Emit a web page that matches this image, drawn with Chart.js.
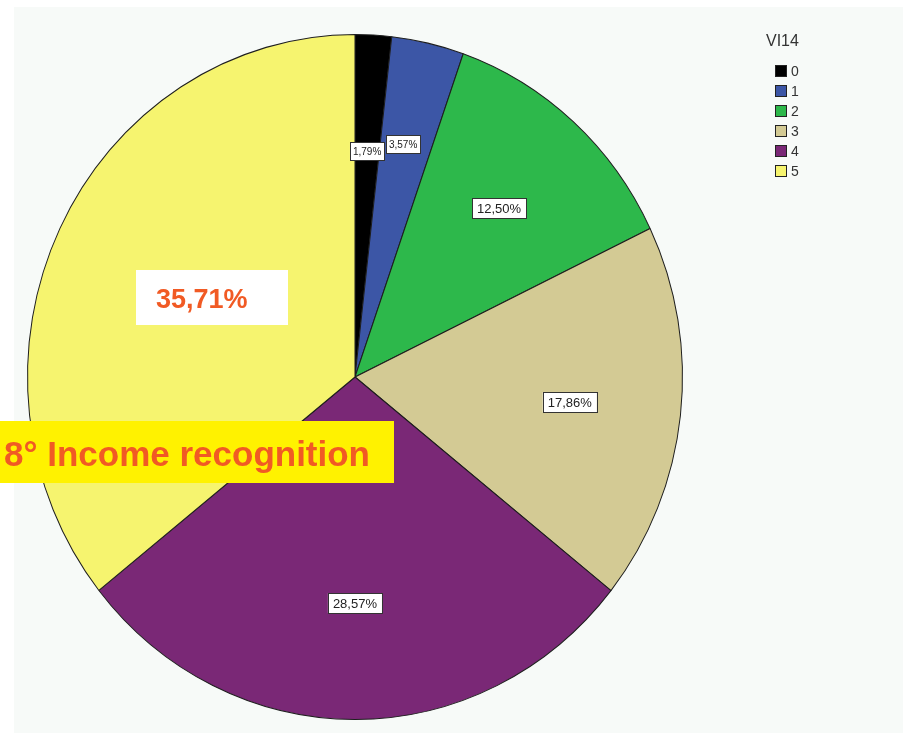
<!DOCTYPE html>
<html>
<head>
<meta charset="utf-8">
<script src="https://cdn.jsdelivr.net/npm/chart.js@4"></script>
<style>
  html, body { margin: 0; padding: 0; background: #ffffff; }
  #wrap { width: 903px; height: 733px; }
</style>
</head>
<body>
<div id="wrap"><canvas id="pie" width="903" height="733"></canvas></div>
<script>
const categories = ["0", "1", "2", "3", "4", "5"];
const percents = [1.79, 3.57, 12.50, 17.86, 28.57, 35.71];
const sliceColors = ["#000000", "#3c56a6", "#2db84b", "#d3ca94", "#7a2876", "#f6f46f"];
const legendTitle = "VI14";
const bigLabel = "35,71%";
const bannerText = "8° Income recognition";

// the original pie is a little taller than wide
const stretchY = 343 / 328;

const fmt = (v) => v.toFixed(2).replace(".", ",") + "%";

const panelBg = {
    id: "panelBg",
    beforeDraw(chart) {
        const ctx = chart.ctx;
        ctx.save();
        ctx.fillStyle = "#f7faf8";
        ctx.fillRect(14, 7, chart.width - 14, chart.height - 7);
        ctx.restore();
    },
};

const stretch = {
    id: "stretch",
    beforeDatasetsDraw(chart) {
        const a = chart.getDatasetMeta(0).data[0];
        const ctx = chart.ctx;
        ctx.save();
        ctx.translate(a.x, a.y);
        ctx.scale(1, stretchY);
        ctx.translate(-a.x, -a.y);
    },
    afterDatasetsDraw(chart) {
        chart.ctx.restore();
    },
};

const labelsAndNotes = {
    id: "labelsAndNotes",
    afterDraw(chart) {
        const ctx = chart.ctx;
        const arcs = chart.getDatasetMeta(0).data;
        ctx.save();
        ctx.textAlign = "center";
        ctx.textBaseline = "middle";
        let prev = null;
        arcs.forEach((arc, i) => {
            if (i === arcs.length - 1) return; // covered by the big note
            const mid = (arc.startAngle + arc.endAngle) / 2;
            const r = arc.outerRadius * 0.66;
            const x = arc.x + Math.cos(mid) * r;
            let y = arc.y + Math.sin(mid) * r * stretchY;
            const small = percents[i] < 5;
            ctx.font = (small ? "10px" : "13px") + " 'Liberation Sans', Arial, sans-serif";
            const txt = fmt(percents[i]);
            const w = ctx.measureText(txt).width + (small ? 6 : 10);
            const h = small ? 18 : 20;
            // lift a small label if it would touch the previous one
            if (small && prev && x - w / 2 < prev.x + prev.w / 2 + 4) y = prev.y - 7;
            ctx.fillStyle = "#ffffff";
            ctx.fillRect(x - w / 2, y - h / 2, w, h);
            ctx.strokeStyle = "#333333";
            ctx.lineWidth = 1;
            ctx.strokeRect(Math.round(x - w / 2) + 0.5, Math.round(y - h / 2) + 0.5, Math.round(w), h);
            ctx.fillStyle = "#222222";
            ctx.fillText(txt, x, y + 1);
            prev = { x, y, w };
        });

        // legend
        ctx.textAlign = "left";
        ctx.textBaseline = "middle";
        ctx.fillStyle = "#333333";
        ctx.font = "16px 'Liberation Sans', Arial, sans-serif";
        ctx.fillText(legendTitle, 766, 42);
        ctx.font = "14px 'Liberation Sans', Arial, sans-serif";
        categories.forEach((c, i) => {
            const y = 71 + i * 20;
            ctx.fillStyle = sliceColors[i];
            ctx.fillRect(775, y - 6, 12, 12);
            ctx.strokeStyle = "#222222";
            ctx.strokeRect(775.5, y - 5.5, 11, 11);
            ctx.fillStyle = "#333333";
            ctx.fillText(c, 791, y + 1);
        });

        // big white note
        ctx.fillStyle = "#ffffff";
        ctx.fillRect(136, 270, 152, 55);
        ctx.fillStyle = "#f15a24";
        ctx.font = "bold 27px 'Liberation Sans', Arial, sans-serif";
        ctx.textBaseline = "alphabetic";
        ctx.fillText(bigLabel, 156, 308);

        // yellow banner
        ctx.fillStyle = "#fff200";
        ctx.fillRect(0, 421, 394, 62);
        ctx.fillStyle = "#f15a24";
        ctx.font = "bold 35px 'Liberation Sans', Arial, sans-serif";
        ctx.fillText(bannerText, 4, 466);
        ctx.restore();
    },
};

new Chart(document.getElementById("pie"), {
    type: "pie",
    data: {
        labels: categories,
        datasets: [
            {
                data: percents,
                backgroundColor: sliceColors,
                borderColor: "#1e1e1e",
                borderWidth: 1,
            },
        ],
    },
    options: {
        responsive: false,
        animation: false,
        layout: { padding: { left: 27, right: 220, top: 49, bottom: 28 } },
        plugins: {
            legend: { display: false },
            tooltip: { enabled: false },
        },
    },
    plugins: [panelBg, stretch, labelsAndNotes],
});
</script>
</body>
</html>
